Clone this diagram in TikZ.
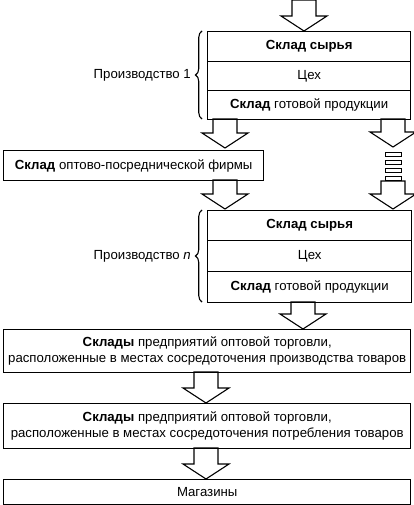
\documentclass[tikz,border=0pt]{standalone}
\usepackage{fontspec}
\setmainfont{Liberation Sans}
\usetikzlibrary{decorations.pathreplacing}
\newcommand\blockarrow[3]{%
  \draw[arrowline] (#1-12,#2) -- (#1+12,#2) -- (#1+12,#3-15) -- (#1+23,#3-15)
    -- (#1,#3) -- (#1-23,#3-15) -- (#1-12,#3-15) -- cycle;}
\begin{document}
\begin{tikzpicture}[x=1pt,y=-1pt,
  txt/.style={font=\fontsize{13.2}{15.5}\selectfont},
  box/.style={draw, line width=1.4pt, rectangle, inner sep=0pt, anchor=north west, txt, align=center},
  arrowline/.style={line width=1.1pt, line join=miter},
  rung/.style={draw, line width=0.8pt},
  bracestyle/.style={decorate, decoration={brace, amplitude=6.5pt}, line width=1.1pt},
  lbl/.style={anchor=east, txt, inner sep=0pt}]
\useasboundingbox (0,0) rectangle (413,505);
% top arrow
\blockarrow{304}{0}{31}
% production 1
\node[box, minimum width=203pt, minimum height=30pt] (p1a) at (207,31) {\textbf{Склад сырья}};
\node[box, minimum width=203pt, minimum height=29pt] (p1b) at (207,61) {Цех};
\node[box, minimum width=203pt, minimum height=29pt] (p1c) at (207,90) {\textbf{Склад} готовой продукции};
\draw[bracestyle] (202,119) -- (202,31);
\node[lbl] (l1) at (191,75) {Производство 1};
% arrows from production 1
\blockarrow{225}{119}{148}
\blockarrow{393}{119}{147}
\foreach \y in {152.5,160.5,168.5,176.5} \draw[rung] (385,\y) rectangle (401,\y+3.5);
\blockarrow{393}{181}{209}
% firm
\node[box, minimum width=260pt, minimum height=30pt] (firm) at (3,150) {\textbf{Склад} оптово-посреднической фирмы};
\blockarrow{225}{180}{209}
% production n
\node[box, minimum width=204pt, minimum height=30pt] (pna) at (207,210) {\textbf{Склад сырья}};
\node[box, minimum width=204pt, minimum height=31pt] (pnb) at (207,240) {Цех};
\node[box, minimum width=204pt, minimum height=31pt] (pnc) at (207,271) {\textbf{Склад} готовой продукции};
\draw[bracestyle] (202,302) -- (202,210);
\node[lbl] (ln) at (191,256) {Производство \textit{n}};
\blockarrow{303}{302}{329}
% wholesale 1
\node[box, minimum width=407pt, minimum height=43pt] (w1) at (3,329) {\textbf{Склады} предприятий оптовой торговли,\\расположенные в местах сосредоточения производства товаров};
\blockarrow{206}{372}{403}
% wholesale 2
\node[box, minimum width=407pt, minimum height=45pt] (w2) at (3,403) {\textbf{Склады} предприятий оптовой торговли,\\расположенные в местах сосредоточения потребления товаров};
\blockarrow{206}{448}{479}
% shops
\node[box, minimum width=407pt, minimum height=25pt] (shop) at (3,479) {Магазины};
\end{tikzpicture}
\end{document}
